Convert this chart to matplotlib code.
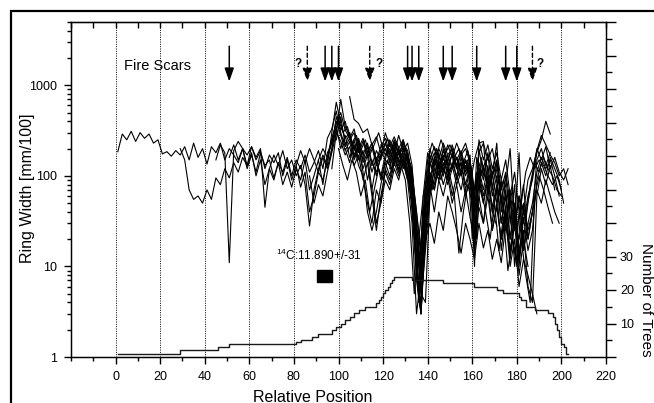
import numpy as np
import matplotlib
matplotlib.use('Agg')
import matplotlib.pyplot as plt
from matplotlib.patches import Rectangle
from matplotlib.ticker import (FixedLocator, LogLocator, NullFormatter,
                               MultipleLocator, FuncFormatter)

plt.rcParams['font.family'] = ['Liberation Sans', 'DejaVu Sans']
plt.rcParams['mathtext.default'] = 'regular'

# ring widths [mm/100], one value every 2 years from the start position
RW01 = [185, 290, 250, 310, 240, 300, 260, 290, 230, 250, 175, 185, 165, 190, 170, 210, 150, 230, 160, 200,
        135, 210, 180, 230, 150, 200, 170, 140, 200, 120, 170, 110, 180, 130, 150, 95, 140, 110, 160, 100,
        150, 120, 170, 110, 140, 190, 120, 260, 330, 520, 300, 210, 260, 170, 230, 140, 180, 110, 160, 90,
        150, 130, 180, 110, 140, 90]
RW02 = [200, 150, 70, 55, 60, 50, 70, 55, 95, 80, 120, 95, 140, 110, 160, 130, 210, 150, 190, 120,
        170, 140, 180, 100, 150, 90, 130, 75, 110, 40, 60, 110, 90, 150, 240, 400, 280, 190, 240, 150,
        200, 120, 170, 70, 140, 100, 170, 200, 130, 190, 120, 160, 60, 20, 6, 40, 110, 80, 150, 100]
RW03 = [150, 220, 180, 11, 190, 240, 200, 170, 210, 160, 200, 45, 120, 170, 130, 190, 120, 150, 100, 130,
        80, 28, 70, 120, 170, 130, 300, 650, 380, 260, 300, 190, 250, 150, 210, 130, 190, 150, 230, 170,
        250, 180, 220, 110, 90, 8, 3, 30, 80, 150, 100, 200, 130, 170, 90, 140, 70, 120, 60]
RW04 = [160, 220, 150, 200, 130, 180, 100, 150, 80, 120, 90, 140, 80, 110, 75, 120, 90, 150, 70, 100,
        150, 80, 180, 230, 350, 200, 280, 160, 220, 130, 100, 50, 30, 70, 50, 120, 90, 160, 110, 200,
        140, 40, 10, 4, 15, 60, 120, 90, 160, 110, 180, 120, 140, 80, 130, 70, 100, 50, 90, 40, 28]
RW05 = [130, 190, 140, 200, 150, 110, 160, 120, 200, 450, 320, 400, 250, 300, 180, 240, 160, 210, 130, 170,
        200, 140, 230, 170, 200, 150, 80, 30, 5, 20, 90, 160, 120, 190, 140, 220, 150, 190, 120, 170,
        20, 120, 70, 130, 60, 100, 30, 70, 20, 50, 15]
RW06 = [100, 50, 80, 60, 110, 180, 300, 240, 170, 210, 130, 170, 90, 140, 60, 25, 60, 110, 80, 140,
        100, 150, 90, 30, 3, 8, 50, 100, 70, 130, 80, 120, 60, 100, 70, 130, 90, 40, 80, 50,
        100, 40, 70, 15, 40, 12, 30, 8, 20, 10]
RW07 = [150, 200, 160, 260, 380, 500, 320, 260, 330, 200, 260, 180, 230, 150, 210, 260, 180, 240, 170, 230,
        190, 100, 40, 12, 60, 150, 210, 150, 230, 170, 200, 130, 180, 110, 150, 40, 180, 230, 150, 200,
        110, 60, 30, 70, 25, 60, 40, 90, 120, 190, 280, 220, 170, 140, 100, 120, 80]
RW08 = [120, 300, 700, 350, 280, 200, 260, 170, 230, 140, 110, 160, 200, 150, 210, 140, 180, 120, 60, 15,
        3, 25, 100, 70, 140, 100, 170, 120, 160, 100, 150, 100, 15, 90, 130, 70, 110, 50, 90, 25,
        60, 10, 40, 15, 30, 50, 110, 160, 120, 150, 100, 60]
RW09 = [250, 450, 220, 300, 160, 210, 110, 40, 25, 40, 80, 140, 100, 170, 120, 160, 100, 50, 7, 3,
        35, 130, 180, 120, 170, 100, 130, 80, 110, 60, 90, 25, 60, 30, 80, 25, 50, 20, 45, 15,
        35, 12, 25, 6, 4, 60, 120, 80, 130, 70]
RW10 = [200, 140, 250, 150, 190, 90, 150, 100, 170, 300, 210, 270, 200, 250, 160, 120, 20, 5, 4, 60,
        130, 200, 150, 220, 160, 230, 170, 200, 140, 10, 250, 150, 220, 120, 180, 90, 150, 60, 110, 40,
        80, 20, 40, 150, 200, 130, 180]
RW11 = [750, 420, 380, 300, 330, 220, 270, 180, 230, 160, 200, 130, 170, 100, 50, 10, 3, 20, 80, 40,
        90, 60, 100, 50, 80, 40, 70, 35, 20, 45, 30, 60, 25, 45, 20, 35, 10, 20, 6, 12, 8, 5, 3]
RW12 = [250, 180, 230, 140, 190, 150, 250, 180, 280, 190, 230, 130, 30, 9, 60, 140, 100, 170, 120, 90,
        140, 100, 160, 100, 140, 70, 110, 60, 100, 45, 80, 30, 60, 20, 45, 10, 35, 15, 25, 90,
        140, 100, 160, 120, 90, 50]
RW13 = [70, 30, 50, 90, 70, 120, 90, 150, 110, 70, 25, 8, 20, 30, 18, 40, 25, 60, 40, 25,
        14, 30, 20, 12, 30, 16, 25, 12, 20, 11, 28, 15, 30, 20, 40, 25, 40, 70, 50, 90, 60, 40, 30]
RW14 = [220, 170, 230, 160, 200, 130, 180, 90, 12, 3, 40, 200, 130, 180, 110, 150, 200, 120, 180, 230,
        150, 30, 200, 100, 170, 70, 140, 50, 100, 30, 80, 12, 50, 20, 40]
RW15 = [120, 200, 150, 250, 170, 110, 40, 15, 80, 170, 120, 90, 140, 80, 120, 160, 110, 150, 90, 60,
        140, 90, 180, 100, 150, 70, 110, 50, 30, 60, 20, 50, 100, 200, 150, 210, 120, 160, 110, 90, 120]
RW16 = [80, 150, 230, 240, 60, 100, 230, 40, 80, 200, 30, 180, 15, 30]
RW17 = [30, 60, 90, 180, 250, 400, 290]
RW18 = [150, 260, 420, 300, 350, 230, 280, 190, 250, 170, 220, 300, 200, 260, 190, 240, 170, 200, 130, 60,
        10, 40, 150, 230, 170, 250, 180, 220, 160, 200, 130, 150, 20, 160, 100, 150, 80, 120, 60, 90,
        40, 70, 25, 50, 35, 80, 140, 110, 160, 120, 100, 70, 60]
RW19 = [200, 130, 90, 150, 110, 60, 90, 40, 70, 120, 90, 150, 110, 180, 130, 90, 30, 5, 20, 60,
        100, 70, 130, 90, 150, 100, 60, 14, 40, 80, 50, 110, 70, 40, 20, 50, 15, 35, 9, 20,
        12, 20, 8, 4, 60, 100, 70, 45, 30]
RW20 = [200, 120, 30, 4, 60, 180, 120, 200, 140, 180, 110, 160, 100, 140, 190, 110, 20, 160, 90, 130,
        50, 100, 30, 70, 20, 10, 50, 110, 160, 120, 150, 130, 100, 80, 100, 70]

SERIES_START = [1, 29, 45, 51, 81, 87, 91, 97, 99, 103, 105, 111, 115, 119, 123, 159, 183, 96, 100, 130]
SERIES = [RW01, RW02, RW03, RW04, RW05, RW06, RW07, RW08, RW09, RW10,
          RW11, RW12, RW13, RW14, RW15, RW16, RW17, RW18, RW19, RW20]

# sample depth (number of trees), step changes
TREE_POS = [1, 29, 46, 51, 81, 83, 88, 91, 97, 99, 101, 103, 105, 107, 109, 112, 117, 118, 119, 120,
            121, 122, 123, 124, 125, 133, 147, 161, 171, 174, 181, 182, 184, 188, 194, 196, 197, 198,
            199, 200, 201, 202, 203]
TREE_N = [1, 2, 3, 4, 4.5, 5, 6, 7, 8, 9, 10, 11, 12, 13, 14, 15, 16, 17, 18, 19,
          20, 21, 22, 23, 24, 23, 22, 21, 20, 19, 18, 17, 15, 14, 13, 12, 10, 8,
          6, 4, 3, 1, 1]

# fire scars
FIRE_SURE = [51, 94, 97, 100, 131, 133, 136, 147, 151, 162, 175, 180]
FIRE_UNSURE = [86, 114, 187]
QMARK_X = [82, 118, 190.5]

# 14C date
C14_LABEL = r'$^{14}$C:11.890+/-31'
C14_X = (90.4, 97.1)
C14_Y = (6.7, 9.1)

GRID_X = list(range(0, 201, 20))

W, H = 654, 403
fig = plt.figure(figsize=(W / 100, H / 100), dpi=100)
ax = fig.add_axes([71 / W, 1 - 357 / H, 535 / W, 335 / H])

for gx in GRID_X:
    ax.axvline(gx, color='k', lw=0.7, ls=(0, (1, 1.4)), zorder=0)

for start, vals in zip(SERIES_START, SERIES):
    xs = start + 2 * np.arange(len(vals))
    ax.plot(xs, vals, color='k', lw=0.8, zorder=2)

ax.set_yscale('log')
ax.set_ylim(1, 5000)
ax.set_xlim(-20, 220)
ax.yaxis.set_major_locator(FixedLocator([1, 10, 100, 1000]))
ax.yaxis.set_major_formatter(FuncFormatter(lambda v, p: f'{v:.0f}'))
ax.yaxis.set_minor_locator(LogLocator(base=10, subs=np.arange(2, 10), numticks=20))
ax.yaxis.set_minor_formatter(NullFormatter())
ax.set_xticks(range(0, 221, 20))
ax.xaxis.set_minor_locator(MultipleLocator(10))
ax.tick_params(which='major', length=5, width=1, labelsize=9, pad=5)
ax.tick_params(which='minor', length=3, width=1)
ax.tick_params(which='both', right=False)
for s in ax.spines.values():
    s.set_linewidth(1)

top = ax.secondary_xaxis('top')
top.set_xticks(range(0, 221, 20))
top.set_xticklabels([])
top.xaxis.set_minor_locator(MultipleLocator(10))
top.tick_params(which='both', direction='in', length=4, width=1)

# fire-scar arrows
for fx in FIRE_SURE:
    ax.annotate('', xy=(fx, 1100), xytext=(fx, 2700),
                arrowprops=dict(arrowstyle='-|>,head_length=0.8,head_width=0.28', color='k',
                                lw=1.1, shrinkA=0, shrinkB=0, mutation_scale=10), zorder=3)
for fx in FIRE_UNSURE:
    ax.annotate('', xy=(fx, 1100), xytext=(fx, 2700),
                arrowprops=dict(arrowstyle='-|>,head_length=0.8,head_width=0.28', color='k',
                                lw=1.0, ls=(0, (3, 2)), shrinkA=0, shrinkB=0, mutation_scale=10),
                zorder=3)
for qx in QMARK_X:
    ax.text(qx, 1600, '?', ha='center', va='baseline', fontsize=8.5, fontweight='bold')
ax.text(3.6, 1460, 'Fire Scars', ha='left', va='baseline', fontsize=10.5)

ax.text(72, 11.9, C14_LABEL, ha='left', va='baseline', fontsize=8.5)
ax.add_patch(Rectangle((C14_X[0], C14_Y[0]), C14_X[1] - C14_X[0], C14_Y[1] - C14_Y[0],
                       facecolor='k', edgecolor='k', zorder=3))

ax2 = ax.twinx()
ax2.set_ylim(0, 100)
ax2.plot(TREE_POS, TREE_N, drawstyle='steps-post', color='#1a1a1a', lw=1.0)
ax2.yaxis.set_major_locator(MultipleLocator(10))
ax2.yaxis.set_minor_locator(MultipleLocator(5))
ax2.yaxis.set_major_formatter(FuncFormatter(lambda v, p: f'{v:.0f}' if 5 < v < 35 else ''))
ax2.tick_params(which='major', length=7, width=1, labelsize=9, pad=3)
ax2.tick_params(which='minor', length=4, width=1)

fig.text(27.5 / W, 1 - 188 / H, 'Ring Width [mm/100]', rotation=90, ha='center', va='center',
         fontsize=11.5)
fig.text(313 / W, 1 - 401.5 / H, 'Relative Position', ha='center', va='baseline', fontsize=11.5)
fig.text(646 / W, 1 - 300 / H, 'Number of Trees', rotation=270, ha='center', va='center',
         fontsize=11)

fig.add_artist(Rectangle((11 / W, -0.2), 1.2, 1.2 - 11 / H, transform=fig.transFigure,
                         fill=False, lw=1.6, ec='k'))

fig.savefig('out.png', dpi=100)
